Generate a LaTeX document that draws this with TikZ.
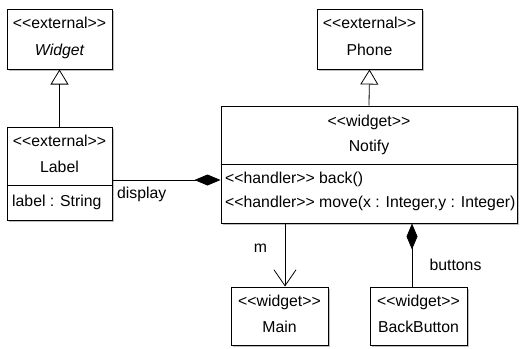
\documentclass[tikz,border=0pt]{standalone}
\usepackage{fontspec}
\newfontfamily\umlfont{Liberation Sans}
\usetikzlibrary{arrows.meta,shadows}
\begin{document}
\begin{tikzpicture}[x=1pt,y=-1pt,
  font=\umlfont\fontsize{15.8}{18}\selectfont,
  box/.style={draw,line width=1pt,fill=white,inner sep=0pt,
    drop shadow={shadow xshift=1.5pt,shadow yshift=-1.5pt,fill=black!50,opacity=.5}},
  txt/.style={anchor=base,inner sep=0pt},
  op/.style={anchor=base west,inner sep=0pt},
  inherit/.style={line width=.8pt,-{Triangle[open,length=15pt,width=18pt]}},
  compose/.style={line width=.8pt,{Diamond[length=26pt,width=11pt]}-},
  assoc/.style={line width=.8pt,-{Straight Barb[length=16pt,width=22pt]}}]
\useasboundingbox (0,0) rectangle (521,348);
% classes
\node[box,name=widget,minimum width=105pt,minimum height=60pt] at (59.5,39){};
\node[txt,name=widgetst] at (59.5,28){<<external>>};
\node[txt,name=widgetnm] at (59.5,55){\itshape Widget};
\node[box,name=phone,minimum width=105pt,minimum height=60pt] at (369.5,39){};
\node[txt,name=phonest] at (369.5,28){<<external>>};
\node[txt,name=phonenm] at (369.5,55){Phone};
\node[box,name=label,minimum width=105pt,minimum height=93pt] at (59.5,173.5){};
\draw[line width=1pt] (label.west |- 0,185)--(label.east |- 0,185);
\node[txt,name=labelst] at (59.5,146){<<external>>};
\node[txt,name=labelnm] at (59.5,172){Label};
\node[op,name=labelattr] at (12,206){label : String};
\node[box,name=notify,minimum width=296pt,minimum height=117pt] at (369,164.5){};
\draw[line width=1pt] (notify.west |- 0,164)--(notify.east |- 0,164);
\node[txt,name=notifyst] at (369,126){<<widget>>};
\node[txt,name=notifynm] at (369,151){Notify};
\node[op,name=opback] at (225,183){<<handler>> back()};
\node[op,name=opmove] at (225,207){<<handler>> move(x : Integer,y : Integer)};
\node[box,name=main,minimum width=97pt,minimum height=58pt] at (279.5,316){};
\node[txt,name=mainst] at (279.5,306){<<widget>>};
\node[txt,name=mainnm] at (279.5,332){Main};
\node[box,name=backbutton,minimum width=97pt,minimum height=58pt] at (418.5,316){};
\node[txt,name=backbuttonst] at (418.5,306){<<widget>>};
\node[txt,name=backbuttonnm] at (418.5,332){BackButton};
% relations
\draw[inherit] (label.north)--(widget.south);
\draw[inherit] (notify.north)--(phone.south);
\draw[compose] (notify.west |- 0,180)--(label.east |- 0,180);
\node[op,name=display] at (117,198){display};
\draw[assoc] (notify.south -| 285,0)--(main.north -| 285,0);
\node[txt,name=m] at (260.5,252){m};
\draw[compose] (notify.south -| 412,0)--(backbutton.north -| 412,0);
\node[txt,name=buttons] at (455.5,270){buttons};
\end{tikzpicture}
\end{document}
